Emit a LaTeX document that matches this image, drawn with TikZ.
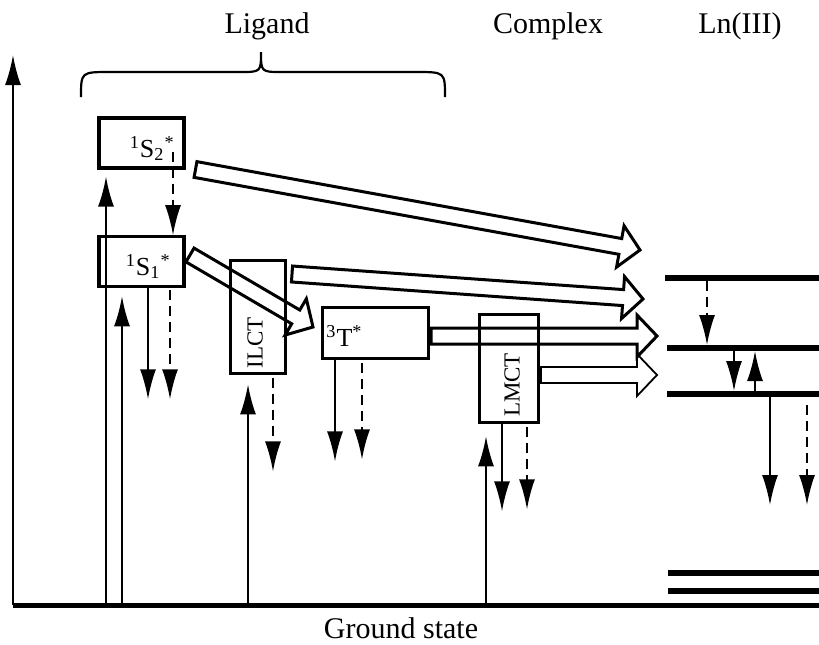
\documentclass[tikz,border=0pt]{standalone}
\usepackage{fontspec}
\setmainfont{Liberation Serif}
\usetikzlibrary{positioning, arrows.meta, calc}

\tikzset{
  state/.style={rectangle, draw, line width=1.6pt, inner sep=0pt},
  title/.style={font=\fontsize{15}{18}\selectfont, inner sep=0pt},
  statelab/.style={font=\fontsize{13}{15}\selectfont, inner sep=0pt},
  boxlab/.style={font=\fontsize{11.5}{13}\selectfont, inner sep=0pt, rotate=90},
  arr/.style={line width=1pt, -{Latex[length=15pt,width=8pt]}},
  darr/.style={arr, dash pattern=on 5pt off 3pt},
  bigarrow/.style={line width=1.5pt},
  elevel/.style={line width=3pt},
}

% hollow block arrow from #2 to #3
\newcommand{\blockarrow}[3][]{%
  \coordinate (ba-c) at ($(#3)!10pt!(#2)$);
  \draw[bigarrow,#1] ($(#2)!4pt!90:(#3)$) -- ($(ba-c)!4pt!90:(#3)$)
    -- ($(ba-c)!10.5pt!90:(#3)$) -- (#3) -- ($(ba-c)!10.5pt!-90:(#3)$)
    -- ($(ba-c)!4pt!-90:(#3)$) -- ($(#2)!4pt!-90:(#3)$) -- cycle;
}

\begin{document}
\begin{tikzpicture}[x=0.5pt, y=-0.5pt]
\useasboundingbox (0,0) rectangle (819,644);

% Titles
\node[title, anchor=base] (ligand) at (267,33) {Ligand};
\node[title, anchor=base] (complex) at (548,33) {Complex};
\node[title, anchor=base] (lniii) at (740,33) {Ln(III)};
\node[title, anchor=base] (ground) at (401,638) {Ground state};

% Brace over the ligand states
\draw[line width=1.1pt] (81,97) .. controls (81,72) .. (110,72) -- (240,72)
  .. controls (261,72) .. (261,52) .. controls (261,72) .. (282,72) -- (416,72)
  .. controls (445,72) .. (445,97);

% Axis and ground state
\coordinate (g0) at (13,605);
\coordinate (g9) at (819,605);
\coordinate (top) at (13,55);
\draw[line width=2.5pt] (g0) -- (g9);
\draw[arr] (g0) -- (top);

% States
\node[state, minimum width=42.5pt, minimum height=25pt] (s2) at (141.5,143) {};
\node[state, minimum width=42.5pt, minimum height=25pt] (s1) at (141.5,261.7) {};
\node[state, minimum width=27.5pt, minimum height=56.5pt] (ilct) at (257.7,317.3) {};
\node[state, minimum width=53pt, minimum height=25.5pt] (t3) at (375.5,333.3) {};
\node[state, minimum width=29.5pt, minimum height=54pt] (lmct) at (509.3,368.7) {};

% Labels
\node[statelab, anchor=base east] (s2lab) at (175,157) {\textsuperscript{1}S\textsubscript{2}\textsuperscript{*}};
\node[statelab, anchor=base east] (s1lab) at (171,275) {\textsuperscript{1}S\textsubscript{1}\textsuperscript{*}};
\node[statelab, anchor=base west] (t3lab) at (326,346) {\textsuperscript{3}T\textsuperscript{*}};
\node[boxlab] (ilctlab) at (255,343) {ILCT};
\node[boxlab] (lmctlab) at (512,385) {LMCT};

% Ln(III) levels
\coordinate (e1) at (665,278);
\coordinate (e2) at (667,348);
\coordinate (e3) at (667,394);
\coordinate (e4) at (668,573);
\coordinate (e5) at (668,591);
\foreach \e in {e1,e2,e3,e4,e5}
  \draw[elevel] (\e) -- (819,0 |- \e);

% Excitation
\draw[arr, shorten >=3.5pt] (106,0 |- g0) -- (106,0 |- s2.south);
\draw[arr, shorten >=4pt] (122,0 |- g0) -- (122,0 |- s1.south);
\draw[arr, shorten >=4.5pt] (248,0 |- g0) -- (248,0 |- ilct.south);
\draw[arr, shorten >=6pt] (486,0 |- g0) -- (486,0 |- lmct.south);
\draw[darr] ($(173,0 |- s2.south)+(0,-18)$) -- (173,0 |- s1.north);

% Decay from the states
\draw[arr] (148,0 |- s1.south) -- ++(0,111);
\draw[darr, shorten <=1pt] (170,0 |- s1.south) -- ++(0,111);
\draw[darr, shorten <=1.5pt] (273,0 |- ilct.south) -- ++(0,96);
\draw[arr] (335,0 |- t3.south) -- ++(0,101);
\draw[darr, shorten <=1.5pt] (362,0 |- t3.south) -- ++(0,99);
\draw[arr] (502,0 |- lmct.south) -- ++(0,87);
\draw[darr, shorten <=1.5pt] (527,0 |- lmct.south) -- ++(0,85);

% Ln(III) transitions
\draw[darr, shorten <=1.5pt, shorten >=1.5pt] (707,0 |- e1) -- (707,0 |- e2);
\draw[arr, shorten <=1.5pt, shorten >=1.5pt] (734,0 |- e2) -- (734,0 |- e3);
\draw[darr, shorten <=1.5pt, shorten >=1.5pt] (755,0 |- e3) -- (755,0 |- e2);
\draw[arr] (770,0 |- e3) -- ++(0,111);
\draw[darr, shorten <=5.5pt] (807,0 |- e3) -- ++(0,111);

% Energy transfer
\coordinate (b1s) at (195.5,169.5);
\coordinate (b1e) at (640,250);
\coordinate (b2s) at (292,274);
\coordinate (b2e) at (643,299);
\coordinate (b3s) at (431,336);
\coordinate (b3e) at (657,336);
\coordinate (b4s) at (541,375);
\coordinate (b4e) at (657,375);
\coordinate (bis) at (190,255);
\coordinate (bie) at (313,327);
\blockarrow{b1s}{b1e}
\blockarrow{b2s}{b2e}
\blockarrow{b3s}{b3e}
\blockarrow[line width=0.9pt]{b4s}{b4e}
\blockarrow{bis}{bie}

\end{tikzpicture}
\end{document}
